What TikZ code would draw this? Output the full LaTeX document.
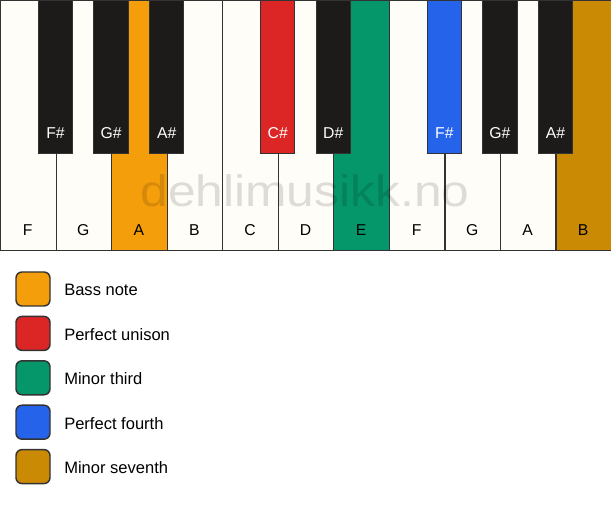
\documentclass[tikz,border=0pt]{standalone}
\usepackage{fontspec}
\setmainfont{Liberation Sans}
\usetikzlibrary{positioning}
\definecolor{wkey}{HTML}{FFFDF8}
\definecolor{bkey}{HTML}{1C1B19}
\definecolor{keyline}{HTML}{333333}
\definecolor{cbass}{HTML}{F59E0B}
\definecolor{cunison}{HTML}{DC2626}
\definecolor{cthird}{HTML}{059669}
\definecolor{cfourth}{HTML}{2563EB}
\definecolor{cseventh}{HTML}{CA8A04}
\tikzset{
  whitekey/.style={draw=keyline, line width=0.9pt, fill=wkey, minimum width=41.66pt, minimum height=187.5pt, inner sep=0pt, anchor=north west},
  blackkey/.style={draw=keyline, line width=0.75pt, fill=bkey, minimum width=25.9pt, minimum height=114.75pt, inner sep=0pt, anchor=north},
  wlabel/.style={font=\fontsize{11.8pt}{13pt}\selectfont, text=black, anchor=center},
  blabel/.style={font=\fontsize{11.8pt}{13pt}\selectfont, text=white, anchor=center},
  legbox/.style={draw=keyline, line width=1.1pt, rounded corners=4.5pt, minimum width=25.5pt, minimum height=25.5pt, inner sep=0pt},
  legtext/.style={font=\fontsize{12.4pt}{14pt}\selectfont, text=black, anchor=west, inner sep=0pt},
}
\begin{document}
\begin{tikzpicture}[x=0.75pt, y=-0.75pt]
\useasboundingbox[fill=white] (0,0) rectangle (611,506);
% white keys
\def\kw{55.545}
\node[whitekey] (w1) at (0*\kw,0) {};
\node[whitekey] (w2) at (1*\kw,0) {};
\node[whitekey, fill=cbass] (w3) at (2*\kw,0) {};
\node[whitekey] (w4) at (3*\kw,0) {};
\node[whitekey] (w5) at (4*\kw,0) {};
\node[whitekey] (w6) at (5*\kw,0) {};
\node[whitekey, fill=cthird] (w7) at (6*\kw,0) {};
\node[whitekey] (w8) at (7*\kw,0) {};
\node[whitekey] (w9) at (8*\kw,0) {};
\node[whitekey] (w10) at (9*\kw,0) {};
\node[whitekey, fill=cseventh] (w11) at (10*\kw,0) {};
% white labels
\foreach \i/\t in {1/F,2/G,3/A,4/B,5/C,6/D,7/E,8/F,9/G,10/A,11/B}{
  \node[wlabel] (wl\i) at ({(\i-0.5)*\kw},230) {\t};
}
% watermark
\node[text=black, opacity=0.13, font=\fontsize{33pt}{36pt}\selectfont, inner sep=0pt] (wm) at (305,191) {\scalebox{1.13}[1]{dehlimusikk.no}};
% black keys
\node[blackkey] (b1) at (1*\kw,0) {};
\node[blackkey] (b2) at (2*\kw,0) {};
\node[blackkey] (b3) at (3*\kw,0) {};
\node[blackkey, fill=cunison] (b5) at (5*\kw,0) {};
\node[blackkey] (b6) at (6*\kw,0) {};
\node[blackkey, fill=cfourth] (b8) at (8*\kw,0) {};
\node[blackkey] (b9) at (9*\kw,0) {};
\node[blackkey] (b10) at (10*\kw,0) {};
\foreach \i/\t in {1/F\#,2/G\#,3/A\#,5/C\#,6/D\#,8/F\#,9/G\#,10/A\#}{
  \node[blabel] (bl\i) at ({\i*\kw},133) {\t};
}
% legend
\node[legbox, fill=cbass] (l1) at (33,289) {};
\node[legbox, fill=cunison] (l2) at (33,333.4) {};
\node[legbox, fill=cthird] (l3) at (33,377.8) {};
\node[legbox, fill=cfourth] (l4) at (33,422.2) {};
\node[legbox, fill=cseventh] (l5) at (33,466.6) {};
\node[legtext] (t1) at (64,290) {Bass note};
\node[legtext] (t2) at (64,334.4) {Perfect unison};
\node[legtext] (t3) at (64,378.8) {Minor third};
\node[legtext] (t4) at (64,423.2) {Perfect fourth};
\node[legtext] (t5) at (64,467.6) {Minor seventh};
\end{tikzpicture}
\end{document}
